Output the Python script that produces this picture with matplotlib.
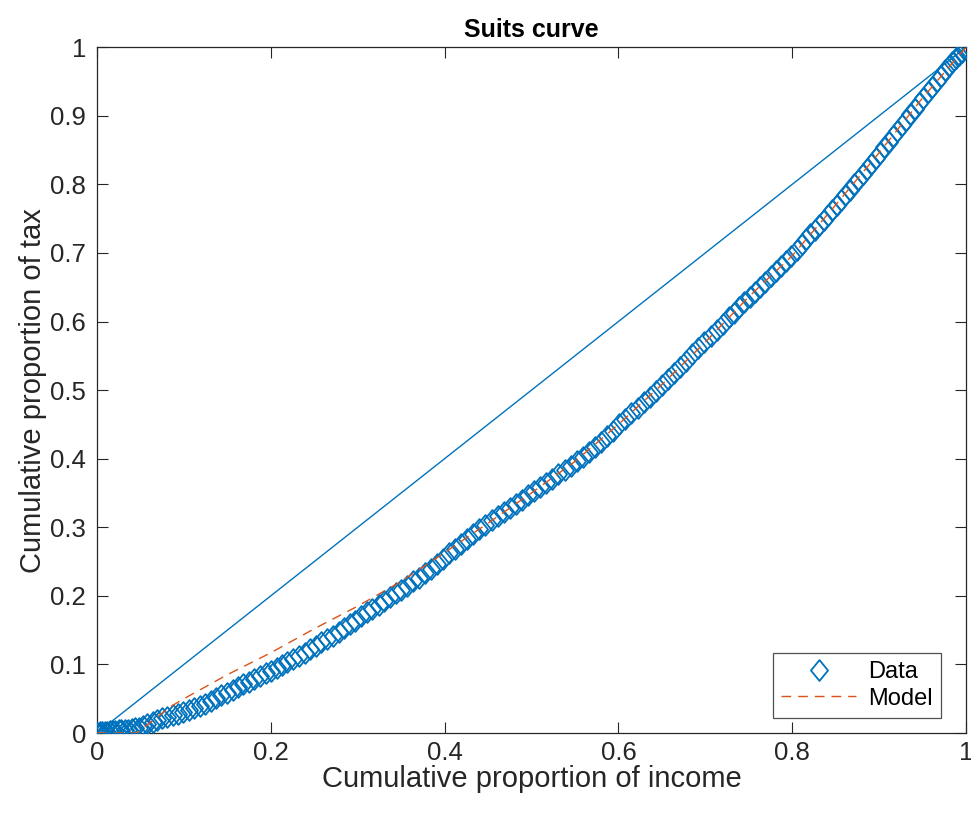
import matplotlib.pyplot as plt
from matplotlib.path import Path
from matplotlib.ticker import FuncFormatter, MultipleLocator
from matplotlib.transforms import ScaledTranslation

# cumulative proportion of income / tax for each observation
income = [0.000, 0.002, 0.004, 0.006, 0.009, 0.012, 0.015, 0.018, 0.021, 0.025,
          0.028, 0.032, 0.036, 0.040, 0.044, 0.048, 0.053,
          0.058, 0.064, 0.069, 0.075, 0.081, 0.087, 0.093, 0.099, 0.106, 0.112,
          0.118, 0.124, 0.131, 0.137, 0.143, 0.150, 0.156, 0.162, 0.168, 0.175,
          0.181, 0.187, 0.194, 0.200,
          0.207, 0.213, 0.219, 0.226, 0.232, 0.239, 0.245, 0.252, 0.258, 0.265,
          0.271, 0.278, 0.284, 0.291, 0.297, 0.304, 0.311, 0.317, 0.324, 0.330,
          0.337, 0.344, 0.350, 0.357, 0.364, 0.370, 0.377, 0.384, 0.391, 0.398,
          0.405, 0.412, 0.419, 0.426, 0.433,
          0.440, 0.447, 0.454, 0.461, 0.468, 0.475, 0.482, 0.489, 0.496, 0.503,
          0.510, 0.517, 0.524, 0.531, 0.538, 0.545,
          0.552, 0.559, 0.566, 0.573, 0.580, 0.587, 0.594, 0.601, 0.608, 0.615,
          0.622, 0.629, 0.636, 0.643, 0.650, 0.657, 0.664, 0.671, 0.678, 0.685,
          0.692, 0.699, 0.706, 0.713, 0.720, 0.727, 0.733, 0.739, 0.745, 0.751,
          0.757, 0.763, 0.769, 0.775, 0.781, 0.787, 0.793, 0.799, 0.805, 0.811,
          0.816, 0.821, 0.826, 0.831, 0.836, 0.841, 0.846, 0.851, 0.856, 0.861,
          0.866, 0.871, 0.876, 0.881, 0.886, 0.891, 0.896, 0.901, 0.906, 0.911,
          0.916, 0.921, 0.926, 0.931, 0.936, 0.941, 0.946, 0.951, 0.956, 0.961,
          0.966, 0.971, 0.976, 0.980, 0.984, 0.988, 0.992, 0.995, 0.998, 1.000]
tax = [0.000, 0.000, 0.001, 0.001, 0.002, 0.002, 0.003, 0.003, 0.003, 0.004,
       0.004, 0.005, 0.005, 0.006, 0.007, 0.008, 0.010,
       0.013, 0.016, 0.019, 0.022, 0.024, 0.026, 0.028, 0.030, 0.033, 0.036,
       0.039, 0.043, 0.047, 0.051, 0.055, 0.059, 0.063, 0.067, 0.071, 0.075,
       0.079, 0.083, 0.087, 0.091,
       0.095, 0.099, 0.103, 0.108, 0.112, 0.117, 0.122, 0.127, 0.132, 0.137,
       0.142, 0.148, 0.153, 0.159, 0.164, 0.170, 0.176, 0.181, 0.187, 0.192,
       0.198, 0.204, 0.209, 0.215, 0.221, 0.226, 0.233, 0.239, 0.246, 0.253,
       0.262, 0.269, 0.276, 0.283, 0.290,
       0.297, 0.304, 0.310, 0.316, 0.322, 0.328, 0.334, 0.340, 0.347, 0.353,
       0.359, 0.365, 0.371, 0.377, 0.384, 0.390,
       0.396, 0.403, 0.410, 0.417, 0.425, 0.433, 0.441, 0.450, 0.458, 0.466,
       0.474, 0.482, 0.490, 0.499, 0.508, 0.516, 0.525, 0.534, 0.543, 0.552,
       0.561, 0.570, 0.579, 0.588, 0.597, 0.606, 0.613, 0.621, 0.628, 0.636,
       0.643, 0.651, 0.658, 0.666, 0.673, 0.681, 0.688, 0.696, 0.704, 0.713,
       0.720, 0.727, 0.734, 0.741, 0.748, 0.755, 0.763, 0.770, 0.777, 0.785,
       0.792, 0.800, 0.807, 0.815, 0.823, 0.830, 0.838, 0.846, 0.854, 0.862,
       0.870, 0.878, 0.886, 0.894, 0.902, 0.910, 0.918, 0.926, 0.934, 0.942,
       0.950, 0.958, 0.966, 0.972, 0.978, 0.984, 0.989, 0.993, 0.997, 1.000]

# fitted model
model_x = [0.0, 0.046, 0.084, 0.10, 0.15, 0.20, 0.25, 0.30, 0.35, 0.40, 0.45,
           0.50, 0.55, 0.60, 0.65, 0.70, 0.75, 0.80, 0.85, 0.90, 0.95, 1.0]
model_y = [0.0, 0.0, 0.038, 0.050, 0.085, 0.117, 0.152, 0.185, 0.221, 0.263, 0.306,
           0.350, 0.396, 0.450, 0.508, 0.570, 0.636, 0.696, 0.770, 0.846, 0.926, 1.0]

blue = '#0072BD'
orange = '#D95319'
dark = '#262626'

plt.rcParams['font.family'] = ['Liberation Sans', 'DejaVu Sans']

# MATLAB-like diamond, a bit narrower than tall
diamond = Path([(0, 1), (0.82, 0), (0, -1), (-0.82, 0), (0, 1)],
               [Path.MOVETO, Path.LINETO, Path.LINETO, Path.LINETO, Path.CLOSEPOLY])

fig = plt.figure(figsize=(9.71, 8.19), dpi=100)
ax = fig.add_axes([0.0999, 0.105, 0.895, 0.8374])

ax.plot(income, tax, linestyle='none', marker=diamond, markersize=15,
        markerfacecolor='none', markeredgecolor=blue, markeredgewidth=1.3,
        label='Data', zorder=3)
ax.plot(model_x, model_y, linestyle=(0, (7, 5)), color=orange, linewidth=1.0,
        label='Model', zorder=4)
ax.plot([0, 1], [0, 1], color=blue, linewidth=1.0, zorder=2)

ax.set_xlim(0, 1)
ax.set_ylim(0, 1)
ax.xaxis.set_major_locator(MultipleLocator(0.2))
ax.yaxis.set_major_locator(MultipleLocator(0.1))
fmt = FuncFormatter(lambda v, p: '%g' % round(v, 2))
ax.xaxis.set_major_formatter(fmt)
ax.yaxis.set_major_formatter(fmt)

ax.tick_params(direction='in', length=8, width=0.8, colors=dark, labelsize=18.5,
               top=True, right=True, pad=8)
ax.tick_params(axis='x', pad=6)
for s in ax.spines.values():
    s.set_color(dark)
    s.set_linewidth(0.9)

# keep the "1" at the right end inside the figure
fig.canvas.draw()
last = ax.get_xticklabels()[-1]
last.set_transform(last.get_transform() + ScaledTranslation(-3 / 72, 0, fig.dpi_scale_trans))

ax.set_title('Suits curve', fontsize=18, fontweight='bold', color='black', pad=7)
ax.set_xlabel('Cumulative proportion of income', fontsize=21, color=dark, labelpad=0)
ax.set_ylabel('Cumulative proportion of tax', fontsize=21, color=dark, labelpad=2)

leg = ax.legend(loc='lower right', bbox_to_anchor=(0.9712, 0.0219), borderaxespad=0,
                fontsize=17, frameon=True, fancybox=False,
                handlelength=3.2, handletextpad=0.5,
                borderpad=0.35, labelspacing=0.2)
leg.get_frame().set_edgecolor(dark)
leg.get_frame().set_linewidth(0.9)

fig.savefig('out.png', dpi=100)
